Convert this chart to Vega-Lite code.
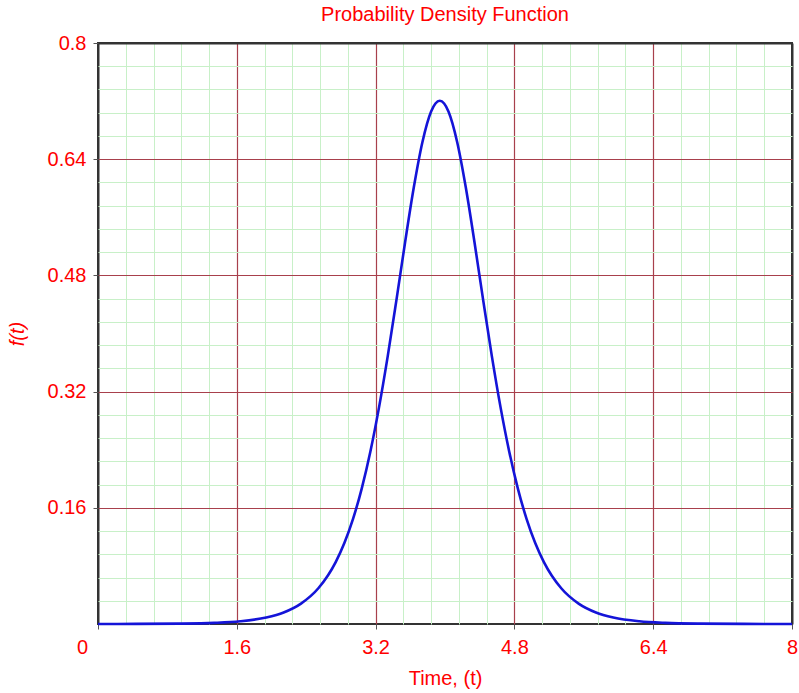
{
  "$schema": "https://vega.github.io/schema/vega-lite/v6.json",
  "width": 694,
  "height": 581,
  "autosize": {"type": "none"},
  "padding": {"left": 98, "top": 43, "right": 7, "bottom": 69},
  "background": "white",
  "title": {"text": "Probability Density Function", "color": "#ff0000", "fontSize": 20, "font": "Liberation Sans", "fontWeight": "normal", "offset": 8, "anchor": "middle"},
  "config": {"view": {"stroke": "#333333", "strokeWidth": 2}, "font": "Liberation Sans"},
  "data": {"values": [
    {"t": 0, "f": 0},
    {"t": 0.44, "f": 0.00012},
    {"t": 0.94, "f": 0.00051},
    {"t": 1.34, "f": 0.0016},
    {"t": 1.64, "f": 0.0038},
    {"t": 1.94, "f": 0.009},
    {"t": 2.14, "f": 0.0159},
    {"t": 2.34, "f": 0.0281},
    {"t": 2.54, "f": 0.0492},
    {"t": 2.74, "f": 0.0853},
    {"t": 2.84, "f": 0.1115},
    {"t": 2.94, "f": 0.1448},
    {"t": 3.04, "f": 0.1865},
    {"t": 3.14, "f": 0.2376},
    {"t": 3.24, "f": 0.2986},
    {"t": 3.34, "f": 0.3689},
    {"t": 3.44, "f": 0.446},
    {"t": 3.54, "f": 0.5256},
    {"t": 3.64, "f": 0.601},
    {"t": 3.74, "f": 0.6638},
    {"t": 3.84, "f": 0.7057},
    {"t": 3.89, "f": 0.7167},
    {"t": 3.94, "f": 0.7205},
    {"t": 3.99, "f": 0.7167},
    {"t": 4.04, "f": 0.7057},
    {"t": 4.14, "f": 0.6638},
    {"t": 4.24, "f": 0.601},
    {"t": 4.34, "f": 0.5256},
    {"t": 4.44, "f": 0.446},
    {"t": 4.54, "f": 0.3689},
    {"t": 4.64, "f": 0.2986},
    {"t": 4.74, "f": 0.2376},
    {"t": 4.84, "f": 0.1865},
    {"t": 4.94, "f": 0.1448},
    {"t": 5.04, "f": 0.1115},
    {"t": 5.14, "f": 0.0853},
    {"t": 5.34, "f": 0.0492},
    {"t": 5.54, "f": 0.0281},
    {"t": 5.74, "f": 0.0159},
    {"t": 5.94, "f": 0.009},
    {"t": 6.24, "f": 0.0038},
    {"t": 6.54, "f": 0.0016},
    {"t": 6.94, "f": 0.00051},
    {"t": 7.44, "f": 0.00012},
    {"t": 8, "f": 0}
  ]},
  "layer": [
    {
      "mark": {"type": "line", "opacity": 0},
      "encoding": {
        "x": {"field": "t", "type": "quantitative", "scale": {"domain": [0, 8], "nice": false},
          "axis": {"orient": "top", "values": [0.32,0.64,0.96,1.28,1.92,2.24,2.56,2.88,3.52,3.84,4.16,4.48,5.12,5.44,5.76,6.08,6.72,7.04,7.36,7.68], "grid": true, "gridColor": "#c8f0c8", "gridWidth": 1, "labels": false, "ticks": false, "domain": false, "title": null}},
        "y": {"field": "f", "type": "quantitative", "scale": {"domain": [0, 0.8], "nice": false},
          "axis": {"orient": "right", "values": [0.032,0.064,0.096,0.128,0.192,0.224,0.256,0.288,0.352,0.384,0.416,0.448,0.512,0.544,0.576,0.608,0.672,0.704,0.736,0.768], "grid": true, "gridColor": "#c8f0c8", "gridWidth": 1, "labels": false, "ticks": false, "domain": false, "title": null}}
      }
    },
    {
      "mark": {"type": "line", "color": "#1414d8", "strokeWidth": 2.6, "interpolate": "monotone"},
      "encoding": {
        "x": {"field": "t", "type": "quantitative", "scale": {"domain": [0, 8], "nice": false},
          "axis": {"orient": "bottom", "values": [0, 1.6, 3.2, 4.8, 6.4, 8], "format": ".2~f", "grid": true,
            "gridColor": {"condition": {"test": "datum.value == 0 || datum.value == 8", "value": "#333333"}, "value": "#a8404c"},
            "gridWidth": {"condition": {"test": "datum.value == 0 || datum.value == 8", "value": 2}, "value": 1.2},
            "domain": false, "ticks": true, "tickColor": "#555555", "tickSize": 5, "labelColor": "#ff0000", "labelFontSize": 20, "labelPadding": 8, "labelFont": "Liberation Sans",
            "labelOffset": {"condition": {"test": "datum.value == 0", "value": -16}, "value": 0},
            "labelFlush": false,
            "title": "Time, (t)", "titleColor": "#ff0000", "titleFontSize": 20, "titleFontWeight": "normal", "titleFont": "Liberation Sans", "titlePadding": 11}},
        "y": {"field": "f", "type": "quantitative", "scale": {"domain": [0, 0.8], "nice": false},
          "axis": {"orient": "left", "values": [0.16, 0.32, 0.48, 0.64, 0.8], "format": ".2~f", "grid": true,
            "gridColor": {"condition": {"test": "datum.value == 0.8", "value": "#333333"}, "value": "#a8404c"},
            "gridWidth": {"condition": {"test": "datum.value == 0.8", "value": 2}, "value": 1.2},
            "domain": false, "ticks": true, "tickColor": "#555555", "tickSize": 5, "labelColor": "#ff0000", "labelFontSize": 20, "labelPadding": 7, "labelFont": "Liberation Sans", "labelFlush": false,
            "title": "f(t)", "titleColor": "#ff0000", "titleFontSize": 20, "titleFontWeight": "normal", "titleFontStyle": "italic", "titleFont": "Liberation Sans", "titlePadding": 20}}
      }
    }
  ],
  "resolve": {"axis": {"x": "independent", "y": "independent"}}
}
